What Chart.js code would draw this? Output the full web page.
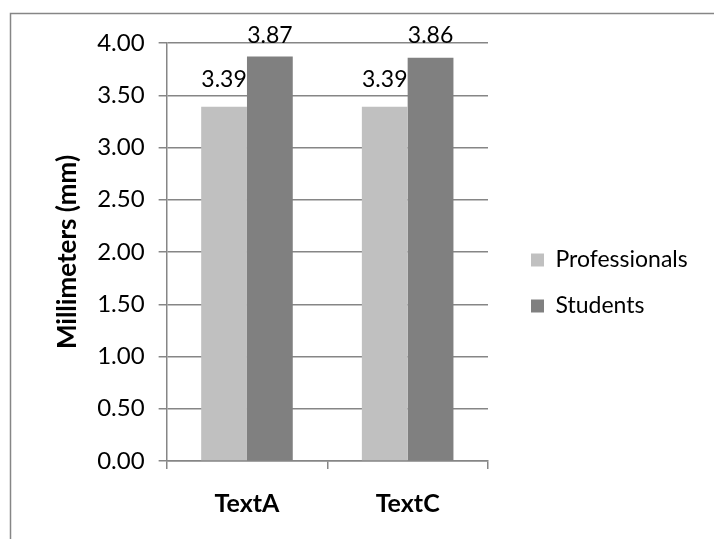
<!DOCTYPE html>
<html>
<head>
<meta charset="utf-8">
<script src="https://cdn.jsdelivr.net/npm/chart.js@4.4.1/dist/chart.umd.min.js"></script>
<style>
  html, body { margin: 0; padding: 0; background: #fff; overflow: hidden; }
  canvas { display: block; }
</style>
</head>
<body>
<canvas id="barChart" width="714" height="539"></canvas>
<script>
// chart data
const categories = ['TextA', 'TextC'];
const professionals = [3.39, 3.39];
const students = [3.87, 3.86];
const yTicks = [0, 0.5, 1, 1.5, 2, 2.5, 3, 3.5, 4];

const FONT = 'Lato, "Open Sans", sans-serif';
const GRID = '#868686';
const LEGEND_EXTRA = 50;  // extra legend width (text is wider than chart.js thinks)
const LEGEND_SHIFT_X = 20; // gap between plot area and legend items
const LEGEND_SHIFT_Y = -8;

// outer frame: only its left and top edges fall inside the picture
const framePlugin = {
    id: 'frame',
    afterDraw(chart) {
        const ctx = chart.ctx;
        ctx.save();
        ctx.strokeStyle = GRID;
        ctx.lineWidth = 1.5;
        ctx.beginPath();
        ctx.moveTo(10.5, chart.height);
        ctx.lineTo(10.5, 13.5);
        ctx.lineTo(chart.width, 13.5);
        ctx.stroke();
        ctx.restore();
    }
};

// widen the legend box and nudge it
const legendGap = {
    id: 'legendGap',
    beforeLayout(chart) {
        const lg = chart.legend;
        if (lg && !lg._gapPatched) {
            const fit = lg.fit.bind(lg);
            lg.fit = function() {
                fit();
                this.width += LEGEND_EXTRA;
            };
            lg._gapPatched = true;
        }
    },
    afterLayout(chart) {
        const lg = chart.legend;
        if (!lg) return;
        lg.left += LEGEND_SHIFT_X;
        lg.top += LEGEND_SHIFT_Y;
        lg.bottom += LEGEND_SHIFT_Y;
    }
};

// value labels above bars
const valueLabels = {
    id: 'valueLabels',
    afterDatasetsDraw(chart) {
        const ctx = chart.ctx;
        ctx.save();
        ctx.font = '23px ' + FONT;
        ctx.fillStyle = '#000';
        ctx.textAlign = 'center';
        ctx.textBaseline = 'alphabetic';
        chart.data.datasets.forEach((ds, i) => {
            chart.getDatasetMeta(i).data.forEach((bar, j) => {
                const y = Math.max(bar.y - 20, chart.chartArea.top);
                ctx.fillText(ds.data[j].toFixed(2), bar.x, y);
            });
        });
        ctx.restore();
    }
};

new Chart(document.getElementById('barChart'), {
    type: 'bar',
    data: {
        labels: categories,
        datasets: [{
            label: 'Professionals',
            data: professionals,
            backgroundColor: '#c0c0c0',
        }, {
            label: 'Students',
            data: students,
            backgroundColor: '#808080',
        }],
    },
    options: {
        responsive: false,
        animation: false,
        layout: { padding: { left: 40, top: 43, right: 10, bottom: 0 } },
        datasets: {
            bar: { categoryPercentage: 0.57, barPercentage: 1.0 }
        },
        scales: {
            x: {
                grid: {
                    offset: true,
                    drawOnChartArea: false,
                    color: GRID,
                    lineWidth: 1.5,
                    tickLength: 8,
                },
                border: { color: GRID, width: 1.5 },
                ticks: {
                    color: '#000',
                    padding: 20,
                    font: { family: FONT, size: 25, weight: 'bold' },
                },
            },
            y: {
                min: 0,
                max: 4,
                afterBuildTicks(axis) {
                    axis.ticks = yTicks.map(v => ({ value: v }));
                },
                grid: { color: GRID, lineWidth: 1.5, tickLength: 8 },
                border: { color: GRID, width: 1.5 },
                ticks: {
                    color: '#000',
                    padding: 14,
                    font: { family: FONT, size: 24 },
                    callback: v => Number(v).toFixed(2),
                },
                title: {
                    display: true,
                    text: 'Millimeters (mm)',
                    color: '#000',
                    padding: { top: 12, bottom: 0 },
                    font: { family: FONT, size: 26, weight: 'bold' },
                },
            },
        },
        plugins: {
            legend: {
                position: 'right',
                labels: {
                    color: '#000',
                    boxWidth: 13,
                    boxHeight: 13,
                    padding: 23,
                    font: { family: FONT, size: 23 },
                },
            },
            tooltip: { enabled: false },
        },
    },
    plugins: [framePlugin, legendGap, valueLabels],
});
</script>
</body>
</html>
